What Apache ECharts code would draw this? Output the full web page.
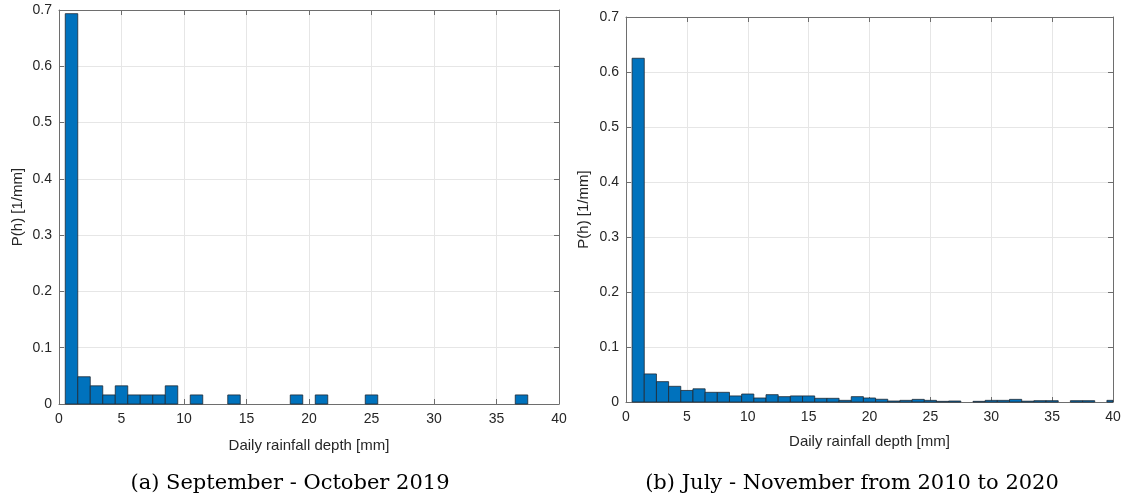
<!DOCTYPE html>
<html>
<head>
<meta charset="utf-8">
<script src="https://cdn.jsdelivr.net/npm/echarts@6/dist/echarts.min.js"></script>
<style>
  html, body { margin: 0; padding: 0; background: #fff; }
  #chart { width: 1125px; height: 498px; }
</style>
</head>
<body>
<div id="chart"></div>
<script>
// ---- Data ----
const binsA = [1, 2, 3, 4, 5, 6, 7, 8, 9, 11, 14, 19, 21, 25, 37];
const valuesA = [0.6935, 0.0484, 0.0323, 0.0161, 0.0323, 0.0161, 0.0161, 0.0161, 0.0323, 0.0161, 0.0161, 0.0161, 0.0161, 0.0161, 0.0161];

const binsB = [1, 2, 3, 4, 5, 6, 7, 8, 9, 10, 11, 12, 13, 14, 15, 16, 17, 18, 19, 20,
               21, 22, 23, 24, 25, 26, 27, 28, 29, 30, 31, 32, 33, 34, 35, 36, 37, 38, 39, 40];
const valuesB = [0.625, 0.051, 0.037, 0.0285, 0.021, 0.024, 0.0176, 0.0176, 0.011, 0.0145,
                 0.0073, 0.0133, 0.0097, 0.011, 0.011, 0.0067, 0.0067, 0.003, 0.0097, 0.0073,
                 0.005, 0.0018, 0.003, 0.0048, 0.003, 0.0012, 0.0018, 0, 0.0012, 0.003,
                 0.003, 0.0048, 0.0015, 0.0024, 0.0024, 0, 0.0024, 0.0024, 0, 0.003];

const xTicks = [0, 5, 10, 15, 20, 25, 30, 35, 40];
const yTicks = [0, 0.1, 0.2, 0.3, 0.4, 0.5, 0.6, 0.7];

const xName = 'Daily rainfall depth [mm]';
const yName = 'P(h) [1/mm]';
const captionA = '(a) September - October 2019';
const captionB = '(b) July - November from 2010 to 2020';

// ---- Styling ----
const textColor = '#262626';
const boxColor = '#6e6e6e';
const gridColor = '#e6e6e6';
const barColor = '#0072BD';
const font = 'Liberation Sans, Arial, sans-serif';

function xAxisPair(gridIndex, nameGap) {
  const base = {
    type: 'value', gridIndex: gridIndex, min: xTicks[0], max: xTicks[xTicks.length - 1], interval: 5,
    axisLine: { show: true, onZero: false, lineStyle: { color: boxColor, width: 1 } },
    axisTick: { show: true, inside: true, length: 5, lineStyle: { color: boxColor } },
  };
  return [
    Object.assign({}, base, {
      position: 'bottom',
      name: xName, nameLocation: 'middle', nameGap: nameGap,
      nameTextStyle: { color: textColor, fontSize: 15, fontFamily: font },
      axisLabel: { color: textColor, fontSize: 14, fontFamily: font, margin: 8 },
      splitLine: { show: true, lineStyle: { color: gridColor, width: 1 } },
    }),
    Object.assign({}, base, {
      position: 'top',
      axisLabel: { show: false },
      splitLine: { show: false },
    })
  ];
}

function yAxisPair(gridIndex, nameGap) {
  const base = {
    type: 'value', gridIndex: gridIndex, min: yTicks[0], max: yTicks[yTicks.length - 1], interval: 0.1,
    axisLine: { show: true, onZero: false, lineStyle: { color: boxColor, width: 1 } },
    axisTick: { show: true, inside: true, length: 5, lineStyle: { color: boxColor } },
  };
  return [
    Object.assign({}, base, {
      position: 'left',
      name: yName, nameLocation: 'middle', nameGap: nameGap,
      nameTextStyle: { color: textColor, fontSize: 15, fontFamily: font },
      axisLabel: { color: textColor, fontSize: 14, fontFamily: font, margin: 7,
                   formatter: v => (Math.round(v * 10) / 10).toString() },
      splitLine: { show: true, lineStyle: { color: gridColor, width: 1 } },
    }),
    Object.assign({}, base, {
      position: 'right',
      axisLabel: { show: false },
      splitLine: { show: false },
    })
  ];
}

function histRender(params, api) {
  const x = api.value(0), y = api.value(1);
  if (!y) return;
  const p0 = api.coord([x - 0.5, y]);
  const p1 = api.coord([x + 0.5, 0]);
  const cs = params.coordSys;
  const rect = echarts.graphic.clipRectByRect(
    { x: p0[0], y: p0[1], width: p1[0] - p0[0], height: p1[1] - p0[1] },
    { x: cs.x, y: cs.y, width: cs.width, height: cs.height }
  );
  if (!rect) return;
  return {
    type: 'rect', shape: rect,
    style: { fill: barColor, stroke: '#1f2a33', lineWidth: 0.8 }
  };
}

const chart = echarts.init(document.getElementById('chart'), null, { renderer: 'canvas' });

const xa = xAxisPair(0, 34), xb = xAxisPair(1, 32);
const ya = yAxisPair(0, 34), yb = yAxisPair(1, 35);

const captionFont = '21px "DejaVu Serif", serif';

chart.setOption({
  animation: false,
  backgroundColor: '#ffffff',
  grid: [
    { left: 59, top: 10, width: 500, height: 394, containLabel: false },
    { left: 626, top: 17, width: 487, height: 385, containLabel: false }
  ],
  xAxis: [xa[0], xa[1], xb[0], xb[1]],
  yAxis: [ya[0], ya[1], yb[0], yb[1]],
  graphic: [
    { type: 'text', x: 290, y: 484, style: { text: captionA, fill: '#000', font: captionFont, textAlign: 'center', textVerticalAlign: 'middle' } },
    { type: 'text', x: 852, y: 484, style: { text: captionB, fill: '#000', font: captionFont, textAlign: 'center', textVerticalAlign: 'middle' } }
  ],
  series: [
    {
      type: 'custom', xAxisIndex: 0, yAxisIndex: 0,
      renderItem: histRender,
      data: binsA.map((b, i) => [b, valuesA[i]])
    },
    {
      type: 'custom', xAxisIndex: 2, yAxisIndex: 2,
      renderItem: histRender,
      data: binsB.map((b, i) => [b, valuesB[i]])
    }
  ]
});
</script>
</body>
</html>
